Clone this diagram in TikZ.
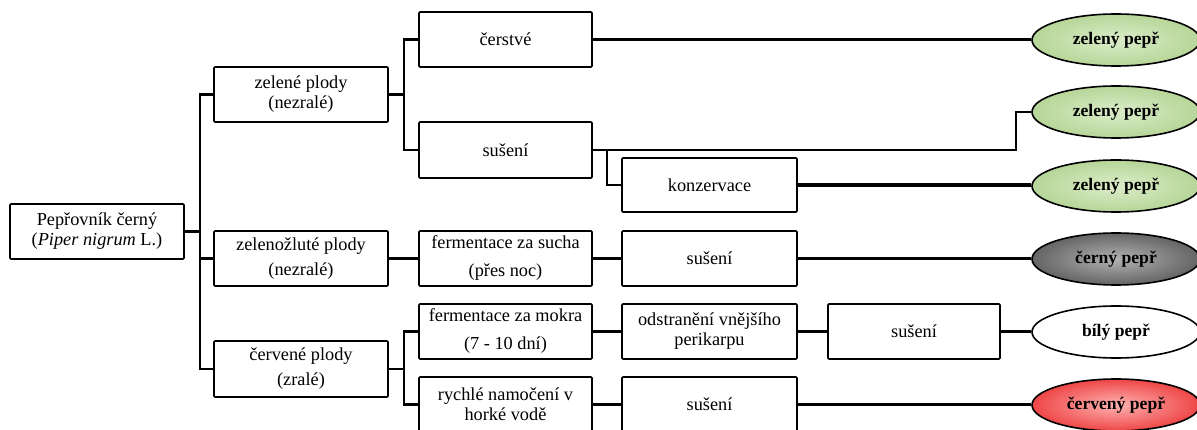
\documentclass[tikz,border=0pt]{standalone}
\usepackage{fontspec}
\setmainfont{Liberation Serif}
\usetikzlibrary{shapes.geometric}
\definecolor{gin}{RGB}{220,237,202}
\definecolor{gout}{RGB}{182,214,152}
\definecolor{kin}{RGB}{178,178,178}
\definecolor{kout}{RGB}{100,100,100}
\definecolor{rin}{RGB}{255,178,178}
\definecolor{rout}{RGB}{238,70,70}
\begin{document}
\begin{tikzpicture}[x=1pt,y=-1pt,
  box/.style={draw=black, line width=1.6pt, rounded corners=1pt, fill=white, align=center, inner sep=0pt,
    font=\fontsize{18.3}{20}\selectfont, minimum height=55pt},
  lA/.style={box, minimum width=174pt},
  lB/.style={box, minimum width=173pt},
  lC/.style={box, minimum width=175pt},
  conn/.style={line width=2.6pt, draw=black},
  fconn/.style={line width=3.2pt, draw=black},
  pep/.style={ellipse, draw=black, line width=1.6pt, minimum width=168pt, minimum height=52pt, inner sep=0pt,
    font=\fontsize{17.6}{20}\selectfont\bfseries},
  pgreen/.style={pep, inner color=gin, outer color=gout},
  pgrey/.style={pep, inner color=kin, outer color=kout},
  pred/.style={pep, inner color=rin, outer color=rout},
  pwhite/.style={pep, fill=white},
]
\useasboundingbox (0,0) rectangle (1197,430);

% level 0
\node[lA] (root) at (97,231.5) {Pepřovník černý\\(\textit{Piper nigrum} L.)};
% level 1
\node[lA] (zp) at (301,94.5) {zelené plody\\(nezralé)};
\node[lA] (zz) at (301,258.5) {zelenožluté plody\\[5pt](nezralé)};
\node[lA, minimum height=56pt] (cp) at (301,369) {červené plody\\[5pt](zralé)};
% level 2
\node[lB] (cer) at (505.5,39.5) {čerstvé};
\node[lB, minimum height=56pt] (su1) at (505.5,150) {sušení};
\node[lB] (fs) at (505.5,258.5) {fermentace za sucha\\[8pt](přes noc)};
\node[lB] (fm) at (505.5,331.5) {fermentace za mokra\\[8pt](7 - 10 dní)};
\node[lB] (ry) at (505.5,404.5) {rychlé namočení v\\horké vodě};
% level 3
\node[lC, minimum height=54pt] (kon) at (709.5,185) {konzervace};
\node[lC] (su2) at (709.5,258.5) {sušení};
\node[lC] (od) at (709.5,331.5) {odstranění vnějšího\\perikarpu};
\node[lC] (su4) at (709.5,404.5) {sušení};
% level 4
\node[box, minimum width=172pt] (su3) at (914,331.5) {sušení};
% products
\node[pgreen] (z1) at (1116,40) {zelený pepř};
\node[pgreen] (z2) at (1116,112) {zelený pepř};
\node[pgreen] (z3) at (1116,186) {zelený pepř};
\node[pgrey] (k) at (1116,259) {černý pepř};
\node[pwhite] (b) at (1116,332) {bílý pepř};
\node[pred] (r) at (1116,405) {červený pepř};

% bus coordinates
\coordinate (b1) at (200,0);
\coordinate (b2) at (404,0);
\coordinate (b4) at (607,0);
\coordinate (b5) at (1016,0);

% connectors
\draw[conn] (root.east) -- (b1 |- root.east) |- (zp.west);
\draw[conn] (root.east) -- (b1 |- root.east) |- (zz.west);
\draw[conn] (root.east) -- (b1 |- root.east) |- (cp.west);

\draw[conn] (zp.east) -- (b2 |- zp.east) |- (cer.west);
\draw[conn] (zp.east) -- (b2 |- zp.east) |- (su1.west);
\draw[conn] (zz.east) -- (fs.west);
\draw[conn] (cp.east) -- (b2 |- cp.east) |- (fm.west);
\draw[conn] (cp.east) -- (b2 |- cp.east) |- (ry.west);

\draw[conn] (su1.east) -- (b5 |- su1.east) |- (z2.west);
\draw[conn] (su1.east) -- (b4 |- su1.east) |- (kon.west);
\draw[conn] (fs.east) -- (su2.west);
\draw[conn] (fm.east) -- (od.west);
\draw[conn] (ry.east) -- (su4.west);
\draw[conn] (od.east) -- (su3.west);

\draw[fconn] (cer.east) -- (cer.east -| z1.west);
\draw[fconn] (kon.east) -- (kon.east -| z3.west);
\draw[fconn] (su2.east) -- (su2.east -| k.west);
\draw[fconn] (su3.east) -- (su3.east -| b.west);
\draw[fconn] (su4.east) -- (su4.east -| r.west);
\end{tikzpicture}
\end{document}
